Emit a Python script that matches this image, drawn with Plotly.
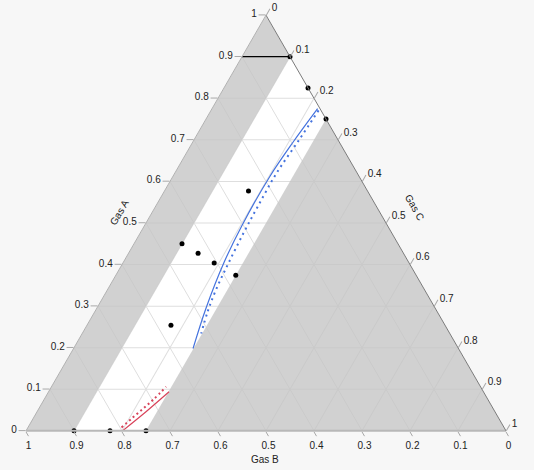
import plotly.graph_objects as go

# ---------------- data ----------------
# design points (Gas A, Gas C); Gas B = 1 - A - C
pts_A = [0.90, 0.825, 0.75, 0.577, 0.45, 0.427, 0.404, 0.374, 0.254, 0.0, 0.0, 0.0]
pts_C = [0.10, 0.175, 0.25, 0.175, 0.10, 0.145, 0.19, 0.25, 0.175, 0.10, 0.175, 0.25]

# highlighted point
hi_A = [0.90]
hi_C = [0.10]

# reference line at Gas A = 0.9
ref_A = [0.90, 0.90]
ref_C = [0.0, 0.10]

# blue contour (solid) and its dotted companion
blue_A = [0.775, 0.693, 0.612, 0.494, 0.405, 0.295, 0.198]
blue_C = [0.220, 0.209, 0.202, 0.203, 0.210, 0.2275, 0.249]
blue_dot_A = [0.771, 0.70, 0.62, 0.54, 0.48, 0.405, 0.34, 0.287, 0.234]
blue_dot_C = [0.224, 0.219, 0.212, 0.213, 0.215, 0.220, 0.226, 0.235, 0.248]

# red contour (solid) and dotted companion
red_A = [0.0, 0.046, 0.094]
red_C = [0.201, 0.227, 0.251]
red_dot_A = [0.008, 0.031, 0.055, 0.076, 0.106]
red_dot_C = [0.195, 0.206, 0.218, 0.228, 0.239]

# constraint regions (shaded): Gas C < 0.1 and Gas C > 0.25
lowC_A = [1.0, 0.0, 0.0, 0.9, 1.0]
lowC_C = [0.0, 0.0, 0.1, 0.1, 0.0]
highC_A = [0.75, 0.0, 0.0, 0.75]
highC_C = [0.25, 0.25, 1.0, 0.25]

tick_vals = [i / 10 for i in range(11)]
tick_text = ["0", "0.1", "0.2", "0.3", "0.4", "0.5", "0.6", "0.7", "0.8", "0.9", "1"]


def bvals(A, C):
    return [round(1 - a - c, 6) for a, c in zip(A, C)]


# ---------------- figure ----------------
fig = go.Figure()
shade = "rgba(196,196,196,0.78)"
for A, C in [(lowC_A, lowC_C), (highC_A, highC_C)]:
    fig.add_trace(go.Scatterternary(a=A, b=bvals(A, C), c=C, mode="lines",
                                    fill="toself", fillcolor=shade,
                                    line=dict(width=0, color=shade),
                                    hoverinfo="skip", showlegend=False))

fig.add_trace(go.Scatterternary(a=blue_A, b=bvals(blue_A, blue_C), c=blue_C, mode="lines",
                                line=dict(color="#4573de", width=1.2, shape="spline"),
                                showlegend=False))
fig.add_trace(go.Scatterternary(a=blue_dot_A, b=bvals(blue_dot_A, blue_dot_C), c=blue_dot_C,
                                mode="lines",
                                line=dict(color="#4573de", width=2, dash="2px,4px", shape="spline"),
                                showlegend=False))
fig.add_trace(go.Scatterternary(a=red_A, b=bvals(red_A, red_C), c=red_C, mode="lines",
                                line=dict(color="#d8435a", width=1.2, shape="spline"),
                                showlegend=False))
fig.add_trace(go.Scatterternary(a=red_dot_A, b=bvals(red_dot_A, red_dot_C), c=red_dot_C,
                                mode="lines",
                                line=dict(color="#d8435a", width=2, dash="2px,3px", shape="spline"),
                                showlegend=False))

fig.add_trace(go.Scatterternary(a=ref_A, b=bvals(ref_A, ref_C), c=ref_C, mode="lines",
                                line=dict(color="black", width=1.3),
                                cliponaxis=False, showlegend=False))
fig.add_trace(go.Scatterternary(a=pts_A, b=bvals(pts_A, pts_C), c=pts_C, mode="markers",
                                marker=dict(color="black", size=5),
                                cliponaxis=False, showlegend=False))
fig.add_trace(go.Scatterternary(a=hi_A, b=bvals(hi_A, hi_C), c=hi_C, mode="markers",
                                marker=dict(color="rgba(0,0,0,0)", size=10, symbol="circle-open",
                                            line=dict(color="#333", width=1.2)),
                                cliponaxis=False, showlegend=False))

axis_common = dict(
    tickmode="array", tickvals=tick_vals, ticktext=tick_text,
    ticks="outside", ticklen=7, tickcolor="#a8a8a8",
    showgrid=True, gridcolor="#dedede", gridwidth=1,
    tickfont=dict(family="Liberation Sans, Arial, sans-serif", size=10, color="#222"),
    title=dict(text=""), showline=True, linewidth=1, min=0,
)

L, T, W, H = 26, 15, 480, 416


def px(x, y):
    return dict(x=(x - L) / W, y=1 - (y - T) / H)


fig.update_layout(
    width=534, height=470,
    margin=dict(l=L, r=534 - L - W, t=T, b=470 - T - H),
    paper_bgcolor="#f7f7f7",
    font=dict(family="Liberation Sans, Arial, sans-serif", size=10, color="#222"),
    ternary=dict(
        sum=1,
        bgcolor="white",
        aaxis=dict(axis_common, linecolor="#b0b0b0"),
        baxis=dict(axis_common, linecolor="#b8b8b8", linewidth=2, ticklen=5),
        caxis=dict(axis_common, linecolor="#7a7a7a"),
    ),
    showlegend=False,
)

for txt, (x, y), ang in [("Gas A", (119, 212), -60), ("Gas B", (265, 459), 0), ("Gas C", (415, 207), 60)]:
    p = px(x, y)
    fig.add_annotation(text=txt, x=p["x"], y=p["y"], xref="paper", yref="paper",
                       showarrow=False, textangle=ang, xanchor="center", yanchor="middle",
                       font=dict(size=10, color="#222"))

fig.write_html("out.html", config={"displayModeBar": False},
               post_script="document.body.style.margin='0';document.body.style.background='#f7f7f7';")
